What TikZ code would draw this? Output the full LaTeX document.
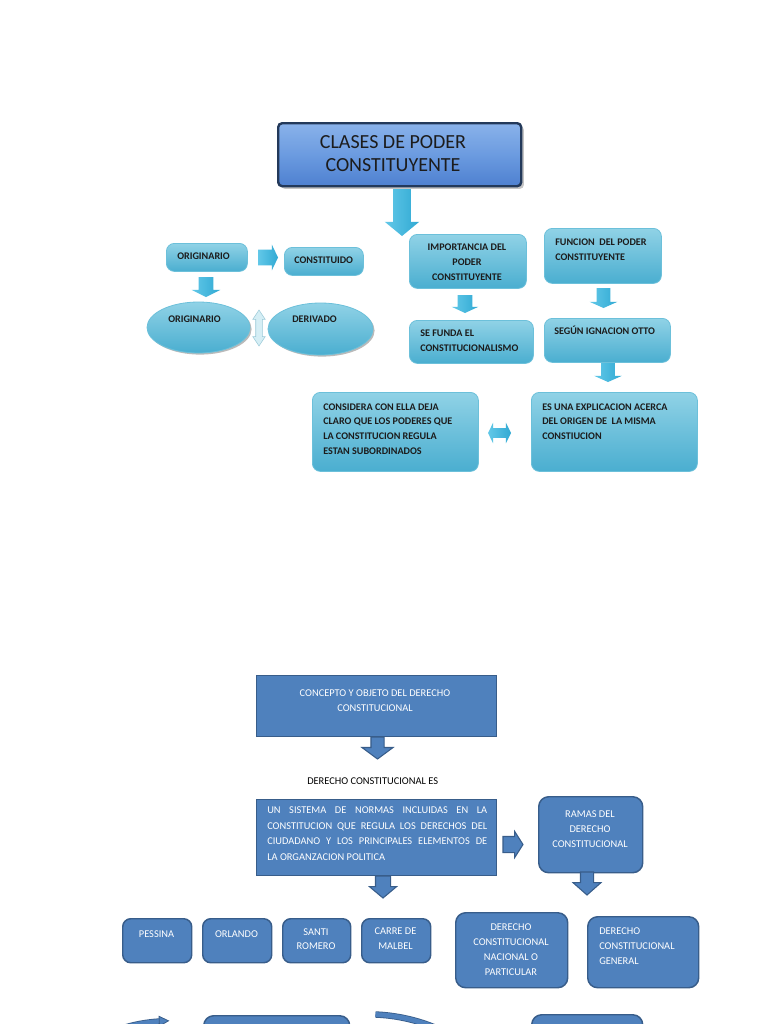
\documentclass[tikz,border=0pt]{standalone}
\usepackage{fontspec}
\setmainfont{Carlito}
\usetikzlibrary{shapes.geometric,shapes.arrows,shadows,calc}
\definecolor{cytop}{HTML}{90D2E6}
\definecolor{cybot}{HTML}{4AAED0}
\definecolor{cyedge}{HTML}{6CC0DA}
\definecolor{artop}{HTML}{62C8E8}
\definecolor{arbot}{HTML}{30A9D3}
\definecolor{ttop}{HTML}{8AB2EA}
\definecolor{tmid}{HTML}{6B9BE0}
\definecolor{tbot}{HTML}{4E80D0}
\definecolor{tedge}{HTML}{23395A}
\definecolor{bfill}{HTML}{4F81BD}
\definecolor{bedge}{HTML}{385D8A}
\definecolor{dtext}{HTML}{1C1C1C}
\definecolor{pale}{HTML}{D5EEF5}
\definecolor{paleedge}{HTML}{9CCAD8}
\tikzset{
  sz/.style 2 args={minimum width={#1*0.75pt}, minimum height={#2*0.75pt}},
  cbox/.style={rectangle, rounded corners=6pt, draw=cyedge, line width=0.6pt,
    top color=cytop, bottom color=cybot, inner sep=0pt, anchor=north west},
  cell/.style={ellipse, draw=cyedge, line width=0.6pt, top color=cytop, bottom color=cybot,
    inner sep=0pt, drop shadow={shadow xshift=1.2pt, shadow yshift=-1.2pt, fill=black!45, opacity=0.6}},
  ttl/.style={rectangle, rounded corners=3pt, draw=tedge, line width=1.8pt,
    top color=ttop, bottom color=tbot, middle color=tmid, inner sep=0pt, anchor=north west,
    drop shadow={shadow xshift=2pt, shadow yshift=-2pt, fill=black!50, opacity=0.45}},
  ttxt/.style={font=\fontsize{15}{17.25}\selectfont, text=dtext, inner sep=0pt, align=center},
  ctxt/.style={font=\fontsize{7.6}{11.25}\selectfont\bfseries, text=dtext, inner sep=0pt, align=left},
  btxt/.style={font=\fontsize{7.8}{11.25}\selectfont, text=white, inner sep=0pt, align=left},
  bbox/.style={rectangle, fill=bfill, draw=bedge, line width=1.1pt, inner sep=0pt, anchor=north west},
  rbbox/.style={bbox, rounded corners=6pt},
  barr/.style n args={4}{single arrow, inner xsep=0pt, inner ysep={#3*0.75pt}, outer sep=0pt,
    minimum height={#1*0.75pt}, minimum width={#2*1.5pt},
    single arrow head extend={(#2-#3)*0.75pt}, single arrow tip angle=#4, anchor=tail},
  cyarr/.style={left color=artop, right color=arbot, draw=none},
  blarr/.style={fill=bfill, draw=bedge, line width=0.8pt},
}
\begin{document}
\begin{tikzpicture}[x=0.75pt,y=-0.75pt]
\useasboundingbox (0,0) rectangle (768,1024);
\clip (0,0) rectangle (768,1024);
\fill[white] (0,0) rectangle (768,1024);

% ---------- upper map ----------
\node[ttl, sz={243}{63}] (title) at (277,122) {};
\node[ttxt, anchor=base] (titlet) at (393,171.5) {CLASES DE PODER\\CONSTITUYENTE};
\node[barr={47}{17}{8.5}{101}, cyarr, rotate=-90] (a1) at (402,189) {};

\node[cbox, sz={81}{28}] (orig) at (166,243) {};
\node[ctxt, anchor=base west] (origt) at (177,259.3) {ORIGINARIO};
\node[cbox, sz={79}{28}] (const) at (284,247) {};
\node[ctxt, anchor=base west] (constt) at (294,263.3) {CONSTITUIDO};
\node[barr={20}{12.5}{7.5}{129}, cyarr] (a2) at (258,257.5) {};
\node[barr={20}{14}{7}{127}, cyarr, rotate=-90] (a3) at (206,277) {};

\node[cell, sz={103}{51}] (e1) at (198.5,327.5) {};
\node[ctxt, anchor=base west] (e1t) at (168,322.3) {ORIGINARIO};
\node[cell, sz={105}{52}] (e2) at (320.5,329) {};
\node[ctxt, anchor=base west] (e2t) at (292,322.3) {DERIVADO};
\node[double arrow, draw=paleedge, fill=pale, line width=0.4pt, inner xsep=0pt, inner ysep={3*0.75pt},
  minimum height={36*0.75pt}, minimum width={12*0.75pt},
  double arrow head extend={3*0.75pt}, double arrow tip angle=67, rotate=90] (dv) at (259,328) {};

\node[cbox, sz={117}{54}] (imp) at (409,234) {};
\node[ctxt, align=center, anchor=base] (impt) at (467,280.3) {IMPORTANCIA DEL\\PODER\\CONSTITUYENTE};
\node[barr={18}{13}{7}{130}, cyarr, rotate=-90] (a4) at (465,295) {};
\node[cbox, sz={124}{43}] (funda) at (409,320) {};
\node[ctxt, anchor=base west] (fundat) at (420,351.3) {SE FUNDA EL\\CONSTITUCIONALISMO};

\node[cbox, sz={117}{55}] (func) at (544,228) {};
\node[ctxt, anchor=base west] (funct) at (555,260.3) {FUNCION\ \ DEL PODER\\CONSTITUYENTE};
\node[barr={20}{13.5}{6.5}{132}, cyarr, rotate=-90] (a5) at (603.5,288) {};
\node[cbox, sz={126}{44}] (segun) at (544,318) {};
\node[ctxt, anchor=base west] (segunt) at (554,334.3) {SEGÚN IGNACION OTTO};
\node[barr={19}{13.5}{6.5}{132}, cyarr, rotate=-90] (a6) at (608,363) {};

\node[cbox, sz={166}{79}] (consid) at (312,392) {};
\node[ctxt, font=\fontsize{7.6}{11}\selectfont\bfseries, anchor=base west] (considt) at (323,454.3) {CONSIDERA CON ELLA DEJA\\CLARO QUE LOS PODERES QUE\\LA CONSTITUCION REGULA\\ESTAN SUBORDINADOS};
\node[double arrow, cyarr, inner xsep=0pt, inner ysep={4.5*0.75pt}, minimum height={23*0.75pt}, minimum width={20*0.75pt},
  double arrow head extend={5.5*0.75pt}, double arrow tip angle=127] (dh) at (499.5,433) {};
\node[cbox, sz={166}{79}] (esuna) at (531,392) {};
\node[ctxt, font=\fontsize{7.6}{11}\selectfont\bfseries, anchor=base west] (esunat) at (542,439.6) {ES UNA EXPLICACION ACERCA\\DEL ORIGEN DE\ \ LA MISMA\\CONSTIUCION};

% ---------- lower map ----------
\node[bbox, sz={240}{61}] (conc) at (256,675) {};
\node[btxt, align=center, anchor=base] (conct) at (375,711.3) {CONCEPTO Y OBJETO DEL DERECHO\\CONSTITUCIONAL};
\node[barr={22}{15}{6}{107}, blarr, rotate=-90] (b1) at (377.5,737) {};
\node[btxt, text=black, anchor=base west] (es) at (307,784.3) {DERECHO CONSTITUCIONAL ES};

\node[bbox, sz={240}{76}] (sist) at (256,799) {};
\node[btxt, font=\fontsize{7.8}{11.6}\selectfont, anchor=base west] (sistt) at (267,860.3)
  {\makebox[165pt][s]{UN SISTEMA DE NORMAS INCLUIDAS EN LA}\\
   \makebox[165pt][s]{CONSTITUCION QUE REGULA LOS DERECHOS DEL}\\
   \makebox[165pt][s]{CIUDADANO Y LOS PRINCIPALES ELEMENTOS DE}\\
   LA ORGANZACION POLITICA};
\node[barr={20}{12.5}{7.5}{115}, blarr] (b2) at (503,844.5) {};
\node[rbbox, rounded corners=7.5pt, sz={104}{76}] (ramas) at (538,796) {};
\node[btxt, align=center, anchor=base] (ramast) at (590,847.3) {RAMAS DEL\\DERECHO\\CONSTITUCIONAL};
\node[barr={22}{13}{7}{100}, blarr, rotate=-90] (b3) at (383,876) {};
\node[barr={23}{13.5}{6}{97}, blarr, rotate=-90] (b4) at (587,872) {};

\node[rbbox, sz={69}{44}] (pes) at (122,918) {};
\node[btxt, align=center, anchor=base] (pest) at (156.5,937.3) {PESSINA};
\node[rbbox, sz={69}{44}] (orl) at (202,918) {};
\node[btxt, align=center, anchor=base] (orlt) at (236.5,937.3) {ORLANDO};
\node[rbbox, sz={68}{44}] (san) at (282,918) {};
\node[btxt, align=center, anchor=base, font=\fontsize{7.8}{10.5}\selectfont] (sant) at (316,949.3) {SANTI\\ROMERO};
\node[rbbox, sz={69}{44}] (car) at (361,918) {};
\node[btxt, align=center, anchor=base] (cart) at (395.5,949.3) {CARRE DE\\MALBEL};

\node[rbbox, rounded corners=7.5pt, sz={112}{75}] (nac) at (455,912) {};
\node[btxt, align=center, anchor=base] (nact) at (511,975.3) {DERECHO\\CONSTITUCIONAL\\NACIONAL O\\PARTICULAR};
\node[rbbox, rounded corners=7.5pt, sz={111}{71}] (gen) at (587,916) {};
\node[btxt, anchor=base west] (gent) at (599,964.3) {DERECHO\\CONSTITUCIONAL\\GENERAL};

% partial shapes at the lower edge
\node[rbbox, rounded corners=7.5pt, sz={146}{60}] (low1) at (203,1015) {};
\node[rbbox, rounded corners=7.5pt, sz={111}{60}] (low2) at (531,1014) {};
\coordinate (c1s) at (110,1033);
\coordinate (c1e) at (160,1021.3);
\draw[draw=bedge, line width=0.6pt, double=bfill, double distance=3.4pt]
  (c1s) .. controls (128,1025) and (145,1022.3) .. (c1e);
\filldraw[fill=bfill, draw=bedge, line width=0.6pt] (159,1016.3) -- (168.5,1020.8) -- (159.5,1026) -- cycle;
\coordinate (c2s) at (375.5,1014.5);
\coordinate (c2e) at (452,1036);
\draw[draw=bedge, line width=0.6pt, double=bfill, double distance=3.6pt]
  (c2s) .. controls (400,1015.5) and (428,1022) .. (c2e);
\end{tikzpicture}
\end{document}
